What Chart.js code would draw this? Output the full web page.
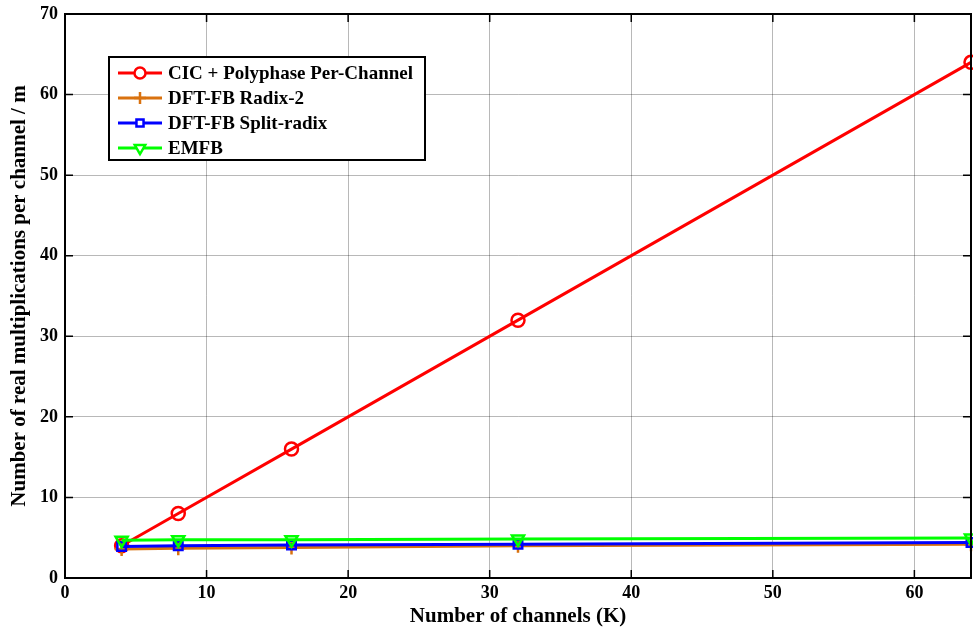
<!DOCTYPE html>
<html>
<head>
<meta charset="utf-8">
<script src="https://cdn.jsdelivr.net/npm/chart.js@4"></script>
<style>
  html, body { margin: 0; padding: 0; background: #fff; }
  #wrap { width: 973px; height: 632px; }
</style>
</head>
<body>
<div id="wrap"><canvas id="myChart" width="973" height="632"></canvas></div>
<script>
// channel counts (K)
var channels = [4, 8, 16, 32, 64];
var cicPoly = [4, 8, 16, 32, 64];
var dftRadix2 = [3.6, 3.7, 3.8, 4.0, 4.2];
var dftSplit = [3.9, 4.0, 4.1, 4.2, 4.4];
var emfb = [4.7, 4.75, 4.75, 4.85, 4.95];
var xTicks = [0, 10, 20, 30, 40, 50, 60];
var yTicks = [0, 10, 20, 30, 40, 50, 60, 70];

var seriesNames = ["CIC + Polyphase Per-Channel", "DFT-FB Radix-2", "DFT-FB Split-radix", "EMFB"];
var seriesColors = ["#ff0000", "#d9720f", "#0000ff", "#00ff00"];
var seriesStyles = ["circle", "cross", "rect", "triangle"];
var seriesRot = [0, 0, 0, 180];
var seriesRadius = [6.5, 7, 6, 7];

function toPoints(vals) {
  return vals.map(function (v, i) { return { x: channels[i], y: v }; });
}

var FONT = "'Liberation Serif', 'Times New Roman', serif";

var allValues = [cicPoly, dftRadix2, dftSplit, emfb];
var datasets = allValues.map(function (vals, i) {
  return {
    label: seriesNames[i],
    data: toPoints(vals),
    borderColor: seriesColors[i],
    backgroundColor: "rgba(0,0,0,0)",
    borderWidth: 3,
    pointStyle: seriesStyles[i],
    pointRotation: seriesRot[i],
    pointRadius: seriesRadius[i],
    pointBorderWidth: 2.5,
    pointBorderColor: seriesColors[i],
    pointBackgroundColor: "rgba(0,0,0,0)",
    fill: false,
    tension: 0,
    clip: false,
    order: 4 - i
  };
});

// box around the plot plus inner tick marks
var framePlugin = {
  id: "frame",
  afterDraw: function (chart) {
    var ctx = chart.ctx, a = chart.chartArea;
    var xs = chart.scales.x, ys = chart.scales.y;
    ctx.save();
    ctx.strokeStyle = "#000";
    ctx.lineWidth = 2;
    ctx.strokeRect(a.left, a.top, a.right - a.left, a.bottom - a.top);
    ctx.lineWidth = 1.5;
    ctx.beginPath();
    xTicks.forEach(function (t) {
      var px = xs.getPixelForValue(t);
      ctx.moveTo(px, a.bottom); ctx.lineTo(px, a.bottom - 8);
      ctx.moveTo(px, a.top); ctx.lineTo(px, a.top + 8);
    });
    yTicks.forEach(function (t) {
      var py = ys.getPixelForValue(t);
      ctx.moveTo(a.left, py); ctx.lineTo(a.left + 8, py);
      ctx.moveTo(a.right, py); ctx.lineTo(a.right - 8, py);
    });
    ctx.stroke();
    ctx.restore();
  }
};

// matlab-like legend box: line with marker in the middle
var legendPlugin = {
  id: "boxLegend",
  afterDraw: function (chart) {
    var ctx = chart.ctx;
    var bx = 109, by = 57, bw = 316, bh = 103;
    ctx.save();
    ctx.fillStyle = "#fff";
    ctx.fillRect(bx, by, bw, bh);
    ctx.strokeStyle = "#000";
    ctx.lineWidth = 2;
    ctx.strokeRect(bx, by, bw, bh);
    ctx.textBaseline = "middle";
    seriesNames.forEach(function (name, i) {
      var y = 73 + i * 25;
      ctx.strokeStyle = seriesColors[i];
      ctx.lineWidth = 3;
      ctx.beginPath();
      ctx.moveTo(118, y); ctx.lineTo(162, y);
      ctx.stroke();
      ctx.lineWidth = 2.5;
      ctx.fillStyle = "#fff";
      Chart.helpers.drawPoint(ctx, {
        pointStyle: seriesStyles[i],
        rotation: seriesRot[i],
        radius: seriesRadius[i] - 1,
        borderWidth: 2.5
      }, 140, y);
      ctx.fillStyle = "#000";
      ctx.font = "bold 19px " + FONT;
      ctx.fillText(name, 168, y + 1);
    });
    ctx.restore();
  }
};

var options = {
  responsive: false,
  animation: false,
  layout: { autoPadding: false, padding: { top: 14, right: 2, left: 0, bottom: 0 } },
  scales: {
    x: {
      type: "linear",
      min: 0,
      max: 64,
      afterFit: function (s) { s.height = 54; s.paddingRight = 0; s.paddingLeft = 0; },
      afterBuildTicks: function (s) { s.ticks = xTicks.map(function (v) { return { value: v }; }); },
      grid: { color: "rgba(0,0,0,0.28)", lineWidth: 1, drawTicks: false },
      border: { color: "#000", width: 2 },
      ticks: { color: "#000", padding: 5, font: { family: FONT, size: 18, weight: "bold" } },
      title: {
        display: true,
        text: "Number of channels (K)",
        color: "#000",
        padding: { top: 0, bottom: 3 },
        font: { family: FONT, size: 21, weight: "bold" }
      }
    },
    y: {
      min: 0,
      max: 70,
      afterFit: function (s) { s.width = 65; s.paddingTop = 0; s.paddingBottom = 0; },
      afterBuildTicks: function (s) { s.ticks = yTicks.map(function (v) { return { value: v }; }); },
      grid: { color: "rgba(0,0,0,0.28)", lineWidth: 1, drawTicks: false },
      border: { color: "#000", width: 2 },
      ticks: { color: "#000", padding: 7, font: { family: FONT, size: 18, weight: "bold" } },
      title: {
        display: true,
        text: "Number of real multiplications per channel / m",
        color: "#000",
        padding: { top: 7, bottom: 0 },
        font: { family: FONT, size: 21, weight: "bold" }
      }
    }
  },
  plugins: {
    legend: { display: false },
    tooltip: { enabled: false }
  }
};

var ctx = document.getElementById("myChart").getContext("2d");
var myChart = new Chart(ctx, {
  type: "line",
  data: { datasets: datasets },
  options: options,
  plugins: [framePlugin, legendPlugin]
});
</script>
</body>
</html>
